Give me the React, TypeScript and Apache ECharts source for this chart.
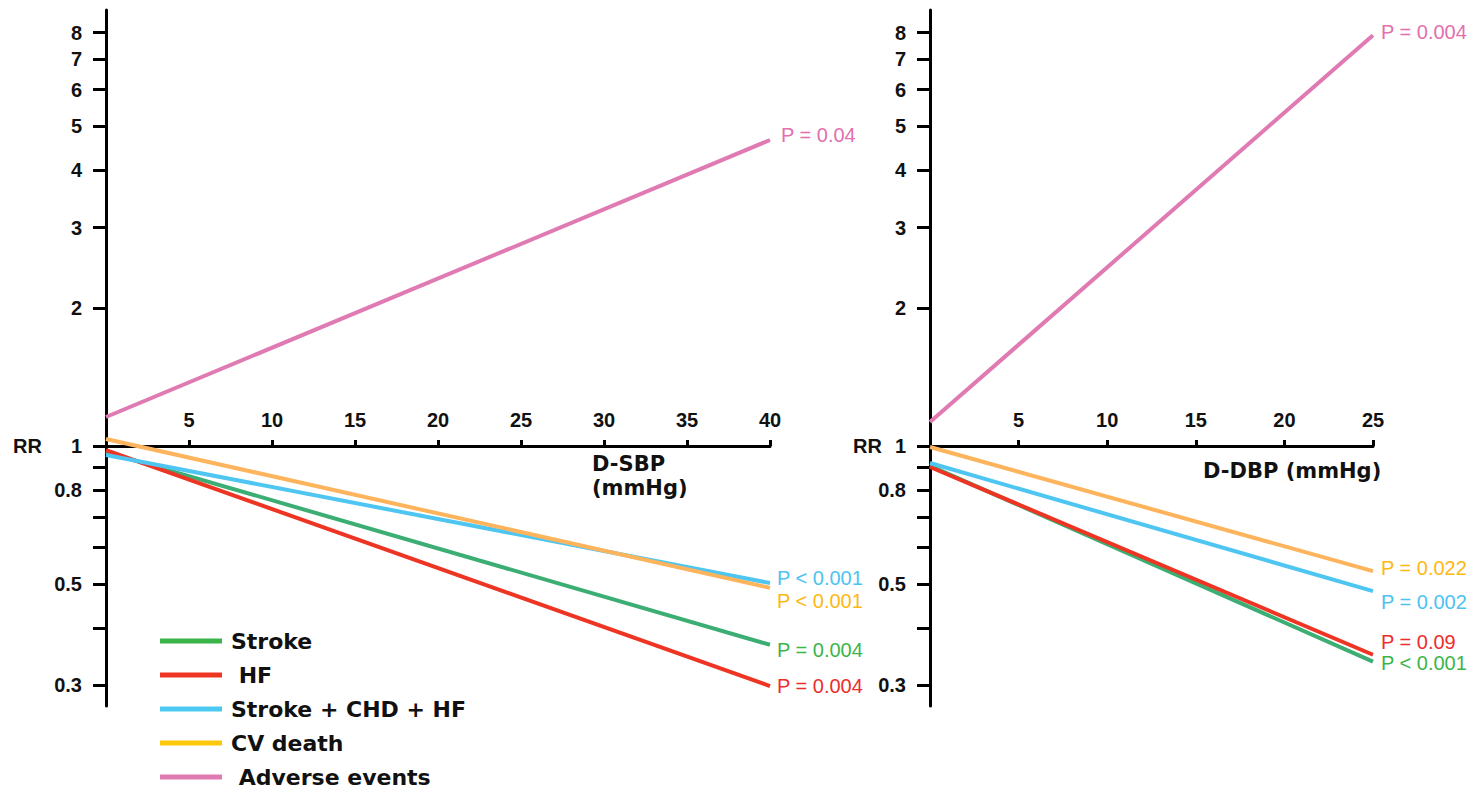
import React, { useEffect, useRef } from "react";
import * as echarts from "echarts";

// ---- Data ----
const SERIES_NAMES = ["Stroke", "HF", "Stroke + CHD + HF", "CV death", "Adverse events"];
const SBP_X = [0, 40];
const DBP_X = [0, 25];
const SBP_RR_START = [0.97, 0.98, 0.956, 1.036, 1.157];
const SBP_RR_END = [0.368, 0.299, 0.502, 0.49, 4.66];
const DBP_RR_START = [0.905, 0.9, 0.918, 0.995, 1.128];
const DBP_RR_END = [0.338, 0.35, 0.482, 0.533, 7.89];
const SBP_P = ["P = 0.004", "P = 0.004", "P < 0.001", "P < 0.001", "P = 0.04"];
const DBP_P = ["P < 0.001", "P = 0.09", "P = 0.002", "P = 0.022", "P = 0.004"];
const Y_TICKS = [0.3, 0.4, 0.5, 0.6, 0.7, 0.8, 0.9, 1, 2, 3, 4, 5, 6, 7, 8];
const Y_LABELS = [0.3, 0.5, 0.8, 1, 2, 3, 4, 5, 6, 7, 8];
const Y_MIN_RR = 0.2705;
const Y_MAX_RR = 8.96;
const X_AXIS_RR = 1;

// ---- Styles ----
const LINE_COLORS = ["#3cae74", "#ee3524", "#4fc6f1", "#fdb45c", "#e07ab2"];
const LEGEND_COLORS = ["#3bb54a", "#ee3524", "#4cc9f0", "#fdc70c", "#e07ab3"];
const P_COLORS = ["#3bb54a", "#ee2c2c", "#4cc3f1", "#fdb813", "#e36fae"];
const SBP_OFFSETS = [[2, 5], [2, 0], [2, -5], [2, 13], [6, -5]];
const DBP_OFFSETS = [[3, 1], [3, -13], [3, 11], [3, -3], [3, -3]];
const FONT = "'Liberation Sans', Arial, Helvetica, sans-serif";
const WIDE = "'DejaVu Sans', Verdana, sans-serif";
const GRID_TOP = 10;
const GRID_H = 696;

const lg = (v: number) => Math.log10(v);

// distance of the RR = 1 line from the top of the grid, via the same linear log scale
const axisDrop =
  (GRID_H * (lg(Y_MAX_RR) - lg(X_AXIS_RR))) / (lg(Y_MAX_RR) - lg(Y_MIN_RR));

function yAxisFor(gridIndex: number) {
  return {
    type: "value",
    gridIndex,
    min: lg(Y_MIN_RR),
    max: lg(Y_MAX_RR),
    axisLine: { show: true, onZero: false, lineStyle: { color: "#000", width: 3 } },
    axisTick: {
      show: true,
      inside: false,
      length: 13,
      lineStyle: { color: "#000", width: 3 },
      customValues: Y_TICKS.map(lg),
    },
    axisLabel: {
      show: true,
      margin: 24,
      color: "#111",
      fontFamily: FONT,
      fontWeight: "bold",
      fontSize: 20,
      customValues: Y_LABELS.map(lg),
      formatter: (v: number) => String(parseFloat(Math.pow(10, v).toFixed(1))),
    },
    splitLine: { show: false },
  };
}

function xAxisFor(gridIndex: number, max: number) {
  return {
    type: "value",
    gridIndex,
    position: "top",
    offset: -axisDrop,
    min: 0,
    max,
    interval: 5,
    axisLine: { show: true, onZero: false, lineStyle: { color: "#000", width: 3 } },
    axisTick: { show: true, inside: false, length: 6, lineStyle: { color: "#000", width: 3 } },
    axisLabel: {
      show: true,
      margin: 16,
      showMinLabel: false,
      color: "#111",
      fontFamily: FONT,
      fontWeight: "bold",
      fontSize: 20,
    },
    splitLine: { show: false },
  };
}

function buildSeries(
  idx: number,
  xs: number[],
  starts: number[],
  ends: number[],
  ps: string[],
  offsets: number[][]
) {
  return SERIES_NAMES.map((name, i) => ({
    name,
    type: "line",
    xAxisIndex: idx,
    yAxisIndex: idx,
    data: [
      [xs[0], lg(starts[i])],
      [xs[1], lg(ends[i])],
    ],
    symbol: "none",
    color: LINE_COLORS[i],
    lineStyle: { color: LINE_COLORS[i], width: 4 },
    endLabel: {
      show: true,
      distance: 5,
      offset: offsets[i],
      formatter: () => ps[i],
      color: P_COLORS[i],
      fontFamily: FONT,
      fontSize: 20,
      fontWeight: "normal",
    },
    z: 2 + i,
  }));
}

export default function App() {
  const ref = useRef<HTMLDivElement>(null);
  useEffect(() => {
    if (!ref.current) return;
    const chart = echarts.init(ref.current, null, { renderer: "svg" });
    const option = {
      animation: false,
      backgroundColor: "#fff",
      grid: [
        { left: 106, top: GRID_TOP, width: 664, height: GRID_H },
        { left: 930, top: GRID_TOP, width: 443, height: GRID_H },
      ],
      xAxis: [xAxisFor(0, SBP_X[1]), xAxisFor(1, DBP_X[1])],
      yAxis: [yAxisFor(0), yAxisFor(1)],
      legend: {
        show: true,
        orient: "vertical",
        left: 160,
        top: 629,
        padding: 0,
        icon: "rect",
        itemWidth: 62,
        itemHeight: 5,
        itemGap: 10,
        data: SERIES_NAMES.map((n, i) => ({ name: n, itemStyle: { color: LEGEND_COLORS[i] } })),
        formatter: (n: string) => (n === "HF" || n === "Adverse events" ? " " + n : n),
        textStyle: {
          color: "#111",
          fontFamily: WIDE,
          fontWeight: "bold",
          fontSize: 22,
          lineHeight: 24,
          padding: [0, 0, 0, 4],
        },
      },
      graphic: [
        {
          type: "text",
          left: 13,
          top: 436,
          style: { text: "RR", fill: "#111", font: `bold 20px ${FONT}` },
        },
        {
          type: "text",
          left: 853,
          top: 436,
          style: { text: "RR", fill: "#111", font: `bold 20px ${FONT}` },
        },
        {
          type: "text",
          left: 592,
          top: 453,
          style: { text: "D-SBP", fill: "#111", font: `bold 21px ${WIDE}` },
        },
        {
          type: "text",
          left: 592,
          top: 477,
          style: { text: "(mmHg)", fill: "#111", font: `bold 21px ${WIDE}` },
        },
        {
          type: "text",
          left: 1203,
          top: 460,
          style: { text: "D-DBP (mmHg)", fill: "#111", font: `bold 21px ${WIDE}` },
        },
      ],
      series: [
        ...buildSeries(0, SBP_X, SBP_RR_START, SBP_RR_END, SBP_P, SBP_OFFSETS),
        ...buildSeries(1, DBP_X, DBP_RR_START, DBP_RR_END, DBP_P, DBP_OFFSETS),
      ],
    };
    chart.setOption(option as any);
    return () => chart.dispose();
  }, []);
  return (
    <div
      ref={ref}
      style={{ position: "fixed", left: 0, top: 0, width: 1470, height: 792, background: "#fff" }}
    />
  );
}
